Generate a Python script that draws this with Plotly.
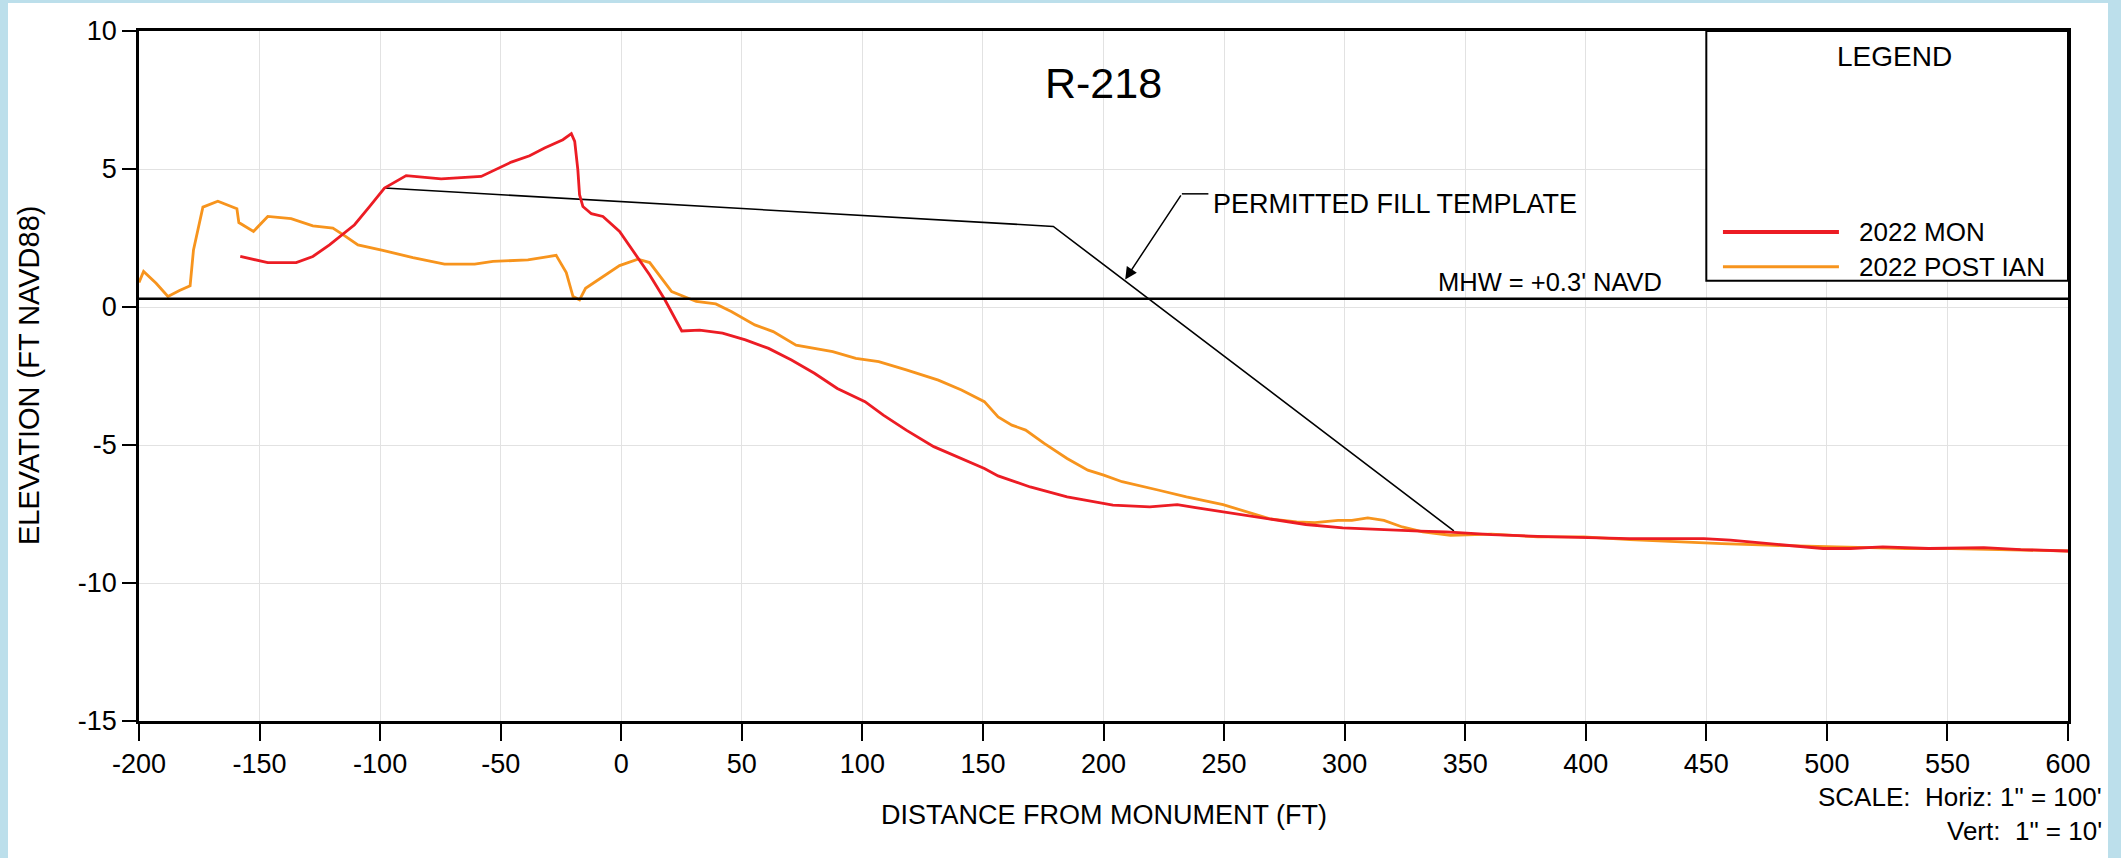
import plotly.graph_objects as go

# ---------------- data ----------------
mon_x = [-158.0, -146.6, -134.8, -127.9, -121.0, -110.6, -104.4, -98.2, -89.2, -74.7,
         -58.1, -51.8, -45.6, -38.0, -31.8, -24.2, -20.7, -19.3, -18.0, -17.3,
         -15.9, -12.4, -7.6, -0.7, 11.8, 18.1, 25.1, 32.5, 42.0, 51.5,
         61.1, 70.6, 80.1, 89.6, 101.1, 108.7, 118.2, 129.6, 141.1, 150.6,
         156.3, 169.6, 184.9, 200.1, 203.9, 219.2, 230.6, 238.2, 249.6, 266.8,
         283.9, 299.2, 310.6, 331.2, 342.0, 361.0, 380.0, 399.0, 418.0, 437.0,
         449.0, 460.0, 475.5, 485.0, 498.4, 509.8, 523.2, 542.2, 565.1, 580.4, 600.0]
mon_y = [1.83, 1.61, 1.61, 1.83, 2.25, 2.98, 3.64, 4.31, 4.76, 4.64,
         4.73, 4.98, 5.25, 5.48, 5.76, 6.06, 6.28, 6.00, 4.97, 4.07,
         3.64, 3.38, 3.28, 2.74, 1.16, 0.26, -0.87, -0.84, -0.95, -1.19,
         -1.50, -1.92, -2.40, -2.95, -3.43, -3.92, -4.46, -5.06, -5.49, -5.85,
         -6.12, -6.52, -6.88, -7.12, -7.18, -7.24, -7.16, -7.27, -7.42, -7.63,
         -7.88, -8.00, -8.05, -8.12, -8.15, -8.25, -8.31, -8.35, -8.39, -8.39,
         -8.39, -8.45, -8.57, -8.67, -8.75, -8.75, -8.69, -8.75, -8.72, -8.79, -8.84]

ian_x = [-200.0, -198.1, -192.9, -188.0, -183.2, -178.8, -177.4, -173.5, -167.3, -159.4,
         -158.6, -152.5, -146.6, -136.9, -127.9, -119.6, -115.4, -109.2, -98.9, -86.4,
         -73.3, -60.8, -53.2, -38.7, -27.0, -22.8, -20.0, -17.3, -14.8, -7.6,
         -0.7, 6.9, 11.8, 20.9, 31.1, 39.2, 45.8, 55.4, 63.0, 72.5,
         87.7, 97.3, 106.8, 118.2, 131.5, 141.1, 150.6, 156.3, 162.0, 167.7,
         175.4, 184.9, 193.5, 200.1, 207.7, 223.0, 234.4, 249.6, 259.2, 268.7,
         280.1, 287.7, 297.3, 303.0, 309.6, 316.3, 323.9, 332.4, 343.9, 361.0,
         380.1, 399.2, 418.3, 437.3, 456.4, 475.5, 488.8, 504.1, 517.5, 532.7,
         551.8, 570.8, 600.0]
ian_y = [0.89, 1.29, 0.86, 0.38, 0.60, 0.77, 2.07, 3.62, 3.83, 3.56,
         3.06, 2.74, 3.28, 3.20, 2.94, 2.86, 2.62, 2.25, 2.05, 1.79,
         1.55, 1.55, 1.65, 1.71, 1.87, 1.25, 0.38, 0.26, 0.68, 1.10,
         1.50, 1.73, 1.61, 0.56, 0.20, 0.11, -0.17, -0.65, -0.89, -1.38,
         -1.62, -1.86, -1.98, -2.28, -2.65, -3.01, -3.43, -3.98, -4.28, -4.46,
         -4.94, -5.49, -5.91, -6.09, -6.33, -6.64, -6.88, -7.16, -7.42, -7.67,
         -7.79, -7.81, -7.73, -7.73, -7.64, -7.73, -7.97, -8.15, -8.27, -8.23,
         -8.33, -8.33, -8.43, -8.51, -8.57, -8.63, -8.67, -8.69, -8.72, -8.75,
         -8.75, -8.79, -8.84]

template_x = [-98.2, 179.2, 345.3]
template_y = [4.31, 2.92, -8.11]

MHW = 0.3
x_ticks = list(range(-200, 601, 50))
y_ticks = [-15, -10, -5, 0, 5, 10]

RED = "#ec1c24"
ORANGE = "#f7941d"
FONT = "Arial, Liberation Sans, sans-serif"

# ---------------- figure ----------------
fig = go.Figure()
fig.add_trace(go.Scatter(x=template_x, y=template_y, mode="lines",
                         line=dict(color="black", width=1.6), showlegend=False, hoverinfo="skip"))
fig.add_trace(go.Scatter(x=ian_x, y=ian_y, mode="lines", name="2022 POST IAN",
                         line=dict(color=ORANGE, width=2.8), showlegend=False))
fig.add_trace(go.Scatter(x=mon_x, y=mon_y, mode="lines", name="2022 MON",
                         line=dict(color=RED, width=2.8), showlegend=False))

L, R, T, B = 139, 53, 31, 137
W, H = 2121, 858
pw, ph = W - L - R, H - T - B


def px(xpix):
    return (xpix - L) / pw


def py(ypix):
    return (H - B - ypix) / ph


shapes = [
    # white page area on light-blue frame
    dict(type="rect", xref="paper", yref="paper", x0=px(8), x1=px(2108), y0=py(900), y1=py(3),
         fillcolor="white", line=dict(width=0), layer="below"),
    # MHW line
    dict(type="line", xref="x", yref="y", x0=-200, x1=600, y0=MHW, y1=MHW,
         line=dict(color="black", width=2.5)),
    # legend box
    dict(type="rect", xref="x", yref="y", x0=450, x1=600, y0=0.95, y1=10,
         line=dict(color="black", width=2), fillcolor="white", layer="above"),
    # legend samples
    dict(type="line", xref="x", yref="y", x0=456.9, x1=505, y0=2.72, y1=2.72,
         line=dict(color=RED, width=4)),
    dict(type="line", xref="x", yref="y", x0=456.9, x1=505, y0=1.46, y1=1.46,
         line=dict(color=ORANGE, width=3)),
    # leader horizontal segment
    dict(type="line", xref="x", yref="y", x0=232.5, x1=243.5, y0=4.1, y1=4.1,
         line=dict(color="black", width=1.5)),
]


def ann(text, x, y, size, xref="x", yref="y", xanchor="center", yanchor="middle", **kw):
    return dict(text=text, x=x, y=y, xref=xref, yref=yref, showarrow=False,
                xanchor=xanchor, yanchor=yanchor,
                font=dict(size=size, color="black", family=FONT), **kw)


annotations = [
    ann("R-218", 200, 8.1, 43),
    ann("LEGEND", 528, 9.06, 28),
    ann("2022 MON", 512.5, 2.72, 26, xanchor="left"),
    ann("2022 POST IAN", 512.5, 1.46, 26, xanchor="left"),
    ann("MHW = +0.3' NAVD", 385, 0.91, 25.5),
    ann("PERMITTED FILL TEMPLATE", 244.5, 3.74, 27, xanchor="left"),
    dict(text="", x=209, y=1.0, xref="x", yref="y", ax=232.5, ay=4.1, axref="x", ayref="y",
         showarrow=True, arrowhead=2, arrowsize=1.6, arrowwidth=1.5, arrowcolor="black"),
    ann("ELEVATION (FT NAVD88)", px(29), 0.5, 29, xref="paper", yref="paper", textangle=-90),
    ann("DISTANCE FROM MONUMENT (FT)", 0.5, py(815), 27, xref="paper", yref="paper"),
    ann("SCALE:  Horiz: 1\" = 100'", px(2104), py(797), 26, xref="paper", yref="paper",
        xanchor="right"),
    ann("Vert:  1\" = 10'", px(2104), py(831), 26, xref="paper", yref="paper", xanchor="right"),
]

fig.update_layout(
    width=W, height=H,
    margin=dict(l=L, r=R, t=T, b=B, pad=0),
    paper_bgcolor="#bcdfeb",
    plot_bgcolor="white",
    showlegend=False,
    shapes=shapes,
    annotations=annotations,
    font=dict(family=FONT, color="black"),
)
fig.update_xaxes(range=[-200, 600], tickvals=x_ticks, ticktext=[str(v) for v in x_ticks],
                 showgrid=True, gridcolor="#e2e2e2", gridwidth=1, zeroline=False,
                 showline=True, linecolor="black", linewidth=2.5, mirror=True,
                 ticks="outside", ticklen=17, tickwidth=2, tickcolor="black",
                 tickfont=dict(size=27, family=FONT, color="black"))
fig.update_yaxes(range=[-15, 10], tickvals=y_ticks, ticktext=[str(v) for v in y_ticks],
                 showgrid=True, gridcolor="#e2e2e2", gridwidth=1, zeroline=False,
                 showline=True, linecolor="black", linewidth=2.5, mirror=True,
                 ticks="outside", ticklen=14, tickwidth=2, tickcolor="black",
                 tickfont=dict(size=27, family=FONT, color="black"))

fig.write_html("out.html",
               config={"displayModeBar": False},
               post_script="document.body.style.margin='0';document.body.style.overflow='hidden';")
